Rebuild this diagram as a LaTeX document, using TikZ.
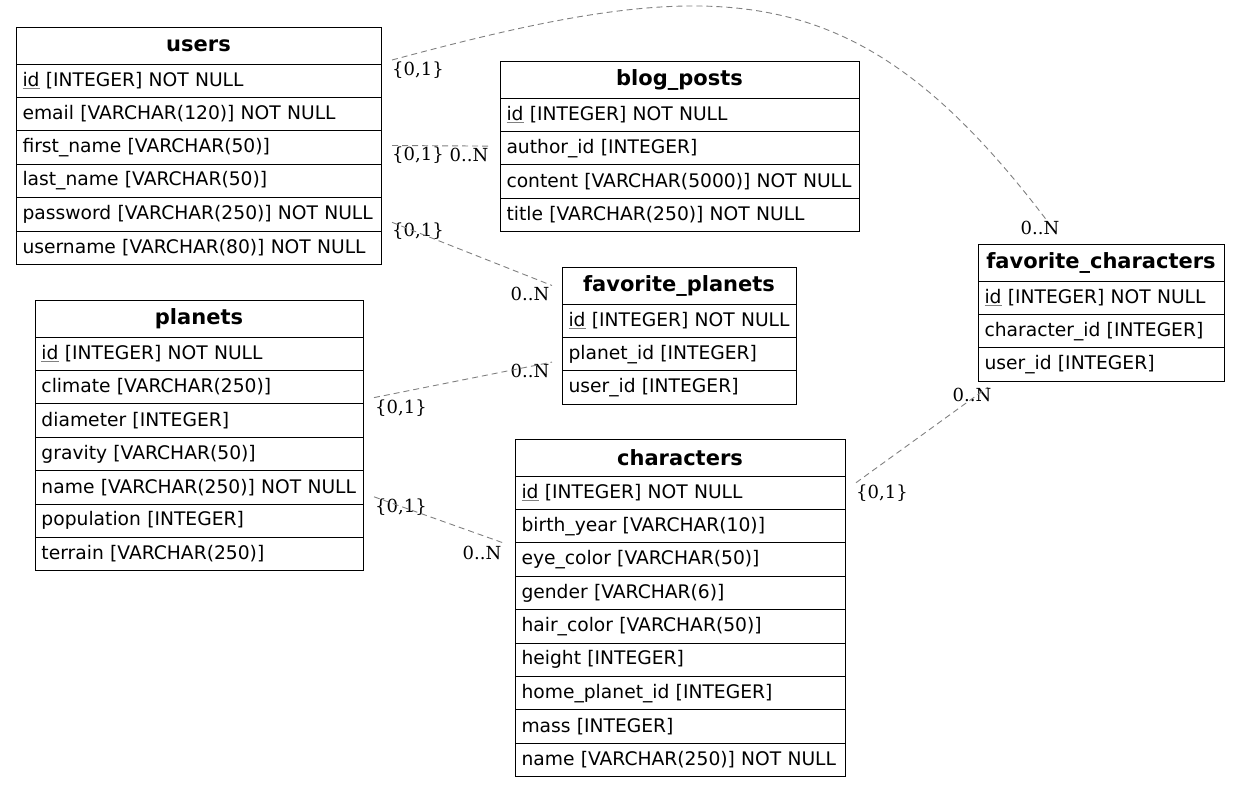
\documentclass[tikz,border=0pt]{standalone}
\usepackage{fontspec}
\setmainfont{DejaVu Sans}
\newfontfamily\lblfont{DejaVu Serif}
\usetikzlibrary{positioning}
\newcommand{\pk}[1]{\textcolor{gray}{\underline{\textcolor{black}{#1}}}}

\begin{document}
\begin{tikzpicture}[x=1pt,y=-1pt,
	font=\fontsize{18.7}{22}\selectfont,
	hdr/.style={draw,line width=1pt,outer sep=0pt,anchor=north west,minimum height=37pt,inner xsep=6.5pt,inner ysep=2pt,text width=#1,align=center,font=\fontsize{21}{24}\selectfont\bfseries},
	fld/.style={draw,line width=1pt,outer sep=0pt,anchor=north west,minimum height=33.4pt,inner xsep=6.5pt,inner ysep=2pt,text width=#1,align=left},
	rel/.style={gray,line width=0.9pt,dash pattern=on 6pt off 4pt},
	card/.style={font=\lblfont\fontsize{18}{20}\selectfont,inner sep=0pt}]
			\useasboundingbox (0,0) rectangle (1240,787);

			% tables
			\node[hdr=352pt] (users0) at (16,27) {users};
			\foreach \txt [count=\i, evaluate=\i as \j using int(\i-1)] in {\pk{id} [INTEGER] NOT NULL, email [VARCHAR(120)] NOT NULL, first\_name [VARCHAR(50)], last\_name [VARCHAR(50)], password [VARCHAR(250)] NOT NULL, username [VARCHAR(80)] NOT NULL}
				\node[fld=352pt] (users\i) at (users\j.south west) {\mbox{\txt}};

			\node[hdr=346pt] (blog0) at (500,61) {blog\_posts};
			\foreach \txt [count=\i, evaluate=\i as \j using int(\i-1)] in {\pk{id} [INTEGER] NOT NULL, author\_id [INTEGER], content [VARCHAR(5000)] NOT NULL, title [VARCHAR(250)] NOT NULL}
				\node[fld=346pt] (blog\i) at (blog\j.south west) {\mbox{\txt}};

			\node[hdr=221pt] (favpl0) at (562,267) {favorite\_planets};
			\foreach \txt [count=\i, evaluate=\i as \j using int(\i-1)] in {\pk{id} [INTEGER] NOT NULL, planet\_id [INTEGER], user\_id [INTEGER]}
				\node[fld=221pt] (favpl\i) at (favpl\j.south west) {\mbox{\txt}};

			\node[hdr=233pt] (favch0) at (978,244) {favorite\_characters};
			\foreach \txt [count=\i, evaluate=\i as \j using int(\i-1)] in {\pk{id} [INTEGER] NOT NULL, character\_id [INTEGER], user\_id [INTEGER]}
				\node[fld=233pt] (favch\i) at (favch\j.south west) {\mbox{\txt}};

			\node[hdr=315pt] (planets0) at (35,300) {planets};
			\foreach \txt [count=\i, evaluate=\i as \j using int(\i-1)] in {\pk{id} [INTEGER] NOT NULL, climate [VARCHAR(250)], diameter [INTEGER], gravity [VARCHAR(50)], name [VARCHAR(250)] NOT NULL, population [INTEGER], terrain [VARCHAR(250)]}
				\node[fld=315pt] (planets\i) at (planets\j.south west) {\mbox{\txt}};

			\node[hdr=317pt] (chars0) at (515,439) {characters};
			\foreach \txt [count=\i, evaluate=\i as \j using int(\i-1)] in {\pk{id} [INTEGER] NOT NULL, birth\_year [VARCHAR(10)], eye\_color [VARCHAR(50)], gender [VARCHAR(6)], hair\_color [VARCHAR(50)], height [INTEGER], home\_planet\_id [INTEGER], mass [INTEGER], name [VARCHAR(250)] NOT NULL}
				\node[fld=317pt] (chars\i) at (chars\j.south west) {\mbox{\txt}};

			% cardinalities
			\node[card] (u1) at (418,70) {\{0,1\}};
			\node[card] (fc1) at (1040,228) {0..N};
			\node[card] (u2) at (418,155) {\{0,1\}};
			\node[card] (bp2) at (469,155) {0..N};
			\node[card] (u3) at (418,231) {\{0,1\}};
			\node[card] (fp3) at (530,294) {0..N};
			\node[card] (p4) at (401,408) {\{0,1\}};
			\node[card] (fp4) at (530,371) {0..N};
			\node[card] (p5) at (401,507) {\{0,1\}};
			\node[card] (c5) at (482,553) {0..N};
			\node[card] (c6) at (882,493) {\{0,1\}};
			\node[card] (fc6) at (972,395) {0..N};

			% relations
			\draw[rel] ([xshift=11pt,yshift=4pt]users0.south east) .. controls (722,-29) and (858,-29) .. ([xshift=70pt,yshift=22pt]favch0.north west);
			\draw[rel] ([xshift=11pt,yshift=2pt]users3.east) -- ([xshift=-10pt,yshift=2pt]blog2.west);
			\draw[rel] ([xshift=11pt,yshift=-8pt]users5.east) -- ([xshift=-10pt]favpl0.west);
			\draw[rel] ([xshift=11pt,yshift=-10.5pt]planets2.east) -- ([xshift=-10pt,yshift=-8pt]favpl2.west);
			\draw[rel] ([xshift=11pt,yshift=-9.5pt]planets5.east) -- ([xshift=-12pt]chars2.south west);
			\draw[rel] ([xshift=11pt,yshift=10pt]chars1.east) -- ([xshift=10pt,yshift=-6pt]favch3.south west);
\end{tikzpicture}
\end{document}
